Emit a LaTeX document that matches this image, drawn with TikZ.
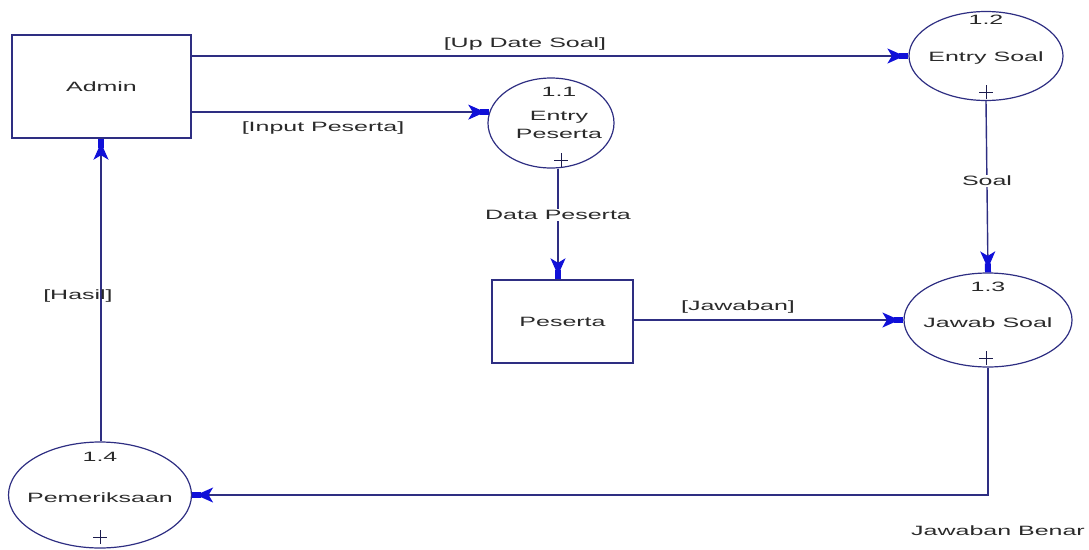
\documentclass[tikz,border=0pt]{standalone}
\usepackage{fontspec}
\setmainfont{Liberation Sans}
\usetikzlibrary{shapes.geometric,arrows.meta,positioning,calc}
\definecolor{navy}{HTML}{2E2E82}
\definecolor{tipblue}{HTML}{1010D8}
\definecolor{txt}{HTML}{2A2A2A}
\newcommand{\wt}[1]{\scalebox{1.85}[1]{#1}}
\tikzset{
  ent/.style={draw=navy,line width=1.4pt,rectangle,inner sep=0pt},
  proc/.style={draw=navy,line width=1.2pt,ellipse,inner sep=0pt},
  lbl/.style={text=txt,font=\fontsize{13.5}{15}\selectfont,inner sep=1pt},
  flow/.style={draw=navy,line width=1.4pt,-{Stealth[length=17pt,width=15pt,inset=4.5pt,sep=-5pt,color=tipblue]Rectangle[length=9pt,width=6pt,color=tipblue]}},
  pl/.style={draw=navy!60!black,line width=1pt}
}
\begin{document}
\begin{tikzpicture}[x=1pt,y=-1pt]
\useasboundingbox (0,0) rectangle (1089,549);
% entities
\node[ent,minimum width=179pt,minimum height=103pt] (admin) at (101.5,86.5) {};
\node[lbl] (tadmin) at (101.5,86.5) {\wt{Admin}};
\node[ent,minimum width=141pt,minimum height=83pt] (peserta) at (562.5,321.5) {};
\node[lbl] (tpeserta) at (562.5,321.5) {\wt{Peserta}};
% processes
\node[proc,minimum width=126pt,minimum height=90pt] (e11) at (551,123) {};
\node[proc,minimum width=154pt,minimum height=89pt] (e12) at (986,56) {};
\node[proc,minimum width=168pt,minimum height=94pt] (e13) at (988,320) {};
\node[proc,minimum width=183pt,minimum height=106pt] (e14) at (100,495) {};
% process texts
\node[lbl] (n11) at (559,92) {\wt{1.1}};
\node[lbl] (a11) at (559,117) {\wt{Entry}};
\node[lbl] (b11) at (559,134) {\wt{Peserta}};
\node[lbl] (n12) at (986,20) {\wt{1.2}};
\node[lbl] (a12) at (986,58) {\wt{Entry Soal}};
\node[lbl] (n13) at (988,287) {\wt{1.3}};
\node[lbl] (a13) at (988,323) {\wt{Jawab Soal}};
\node[lbl] (n14) at (100,457) {\wt{1.4}};
\node[lbl] (a14) at (100,498) {\wt{Pemeriksaan}};
% plus marks
\foreach \n/\x/\y in {p11/561/160, p12/986/92, p13/986/358, p14/100/537}{
  \coordinate (\n) at (\x,\y);
  \draw[pl] ($(\n)+(-7,0)$) -- ($(\n)+(7,0)$);
  \draw[pl] ($(\n)+(0,-7)$) -- ($(\n)+(0,7)$);
}
% flows
\draw[flow] (admin.east |- e12.west) -- (e12.west);
\draw[flow] (admin.east |- e11.170) -- (e11.170);
\draw[flow] (e11.south -| 558,0) -- (peserta.north -| 558,0);
\draw[flow] (peserta.east |- e13.west) -- (e13.west);
\draw[flow] (e12.south) -- (e13.north);
\coordinate (corner) at (e13.south |- e14.east);
\draw[flow] (e13.south) -- (corner) -- (e14.east);
\draw[flow] (e14.north -| 101,0) -- (admin.south -| 101,0);
% flow labels
\node[lbl] (l1) at (525,44) {\wt{[Up Date Soal]}};
\node[lbl] (l2) at (323,128) {\wt{[Input Peserta]}};
\node[lbl,fill=white] (l3) at (558,215) {\wt{Data Peserta}};
\node[lbl] (l4) at (738,307) {\wt{[Jawaban]}};
\node[lbl,fill=white] (l5) at (987,181) {\wt{Soal}};
\node[lbl] (l6) at (998,531) {\wt{Jawaban Benar}};
\node[lbl] (l7) at (78,296) {\wt{[Hasil]}};
\end{tikzpicture}
\end{document}
